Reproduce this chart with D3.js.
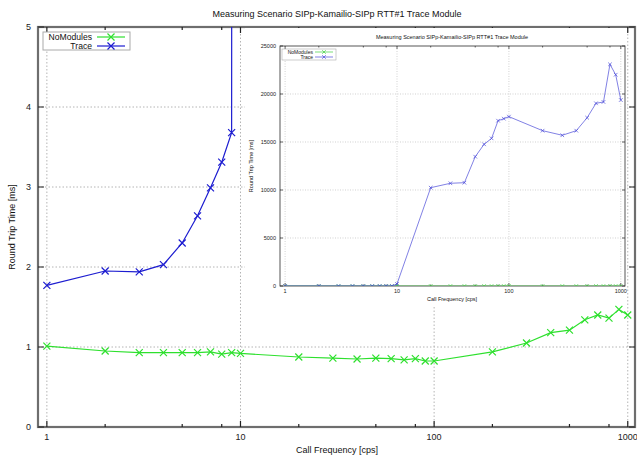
<!DOCTYPE html>
<html>
<head>
<meta charset="utf-8">
<script src="https://cdn.jsdelivr.net/npm/d3@7"></script>
<style>
  body { margin: 0; background: #fff; }
  svg { display: block; font-family: "Liberation Sans", Arial, sans-serif; }
</style>
</head>
<body>
<div id="chart"></div>
<script>
// data
var freqs = [1, 2, 3, 4, 5, 6, 7, 8, 9, 10, 20, 30, 40, 50, 60, 70, 80, 90, 100,
             200, 300, 400, 500, 600, 700, 800, 900, 1000];
var noModules = [1.01, 0.95, 0.93, 0.93, 0.93, 0.93, 0.94, 0.91, 0.93, 0.92, 0.875, 0.86, 0.85, 0.86, 0.855,
                 0.84, 0.855, 0.825, 0.825, 0.94, 1.05, 1.18, 1.21, 1.34, 1.40, 1.36, 1.47, 1.40];
var trace = [1.77, 1.95, 1.94, 2.03, 2.30, 2.64, 2.99, 3.31, 3.68, 220, 10240, 10700, 10760, 13470, 14760,
             15380, 17220, 17430, 17640, 16180, 15700, 16180, 17530, 19030, 19170, 23090, 22010, 19375];

var titleText = "Measuring Scenario SIPp-Kamailio-SIPp RTT#1 Trace Module";
var xLabelText = "Call Frequency [cps]";
var yLabelText = "Round Trip Time [ms]";
var xMajor = [1, 10, 100, 1000];
var xMinor = [2, 5, 8, 20, 50, 80, 200, 500, 800];
var yTicksMain = [0, 1, 2, 3, 4, 5];
var yTicksInset = [0, 5000, 10000, 15000, 20000, 25000];

var series = [
    {name: "NoModules", values: noModules, color: "#2ee02e", colorSmall: "#44d044"},
    {name: "Trace", values: trace, color: "#1c1cd0", colorSmall: "#4a4ad8"}
];

var W = 637, H = 457;
var svg = d3.select("#chart").append("svg").attr("width", W).attr("height", H);

function crossPath(s) {
    return "M" + (-s) + "," + (-s) + "L" + s + "," + s + "M" + (-s) + "," + s + "L" + s + "," + (-s);
}

// draws one gnuplot-like panel
function drawPanel(g, opt) {
    var x = d3.scaleLog().domain([0.9, 1090]).range([opt.left, opt.right]);
    var y = d3.scaleLinear().domain(opt.yDomain).range([opt.bottom, opt.top]);
    var fs = opt.fontSize;

    if (opt.background) {
        g.append("rect").attr("x", opt.bgX0).attr("y", opt.bgY0)
            .attr("width", opt.bgX1 - opt.bgX0).attr("height", opt.bgY1 - opt.bgY0)
            .style("fill", "#fff");
    }

    var clipId = "clip-" + opt.id;
    g.append("clipPath").attr("id", clipId).append("rect")
        .attr("x", opt.left).attr("y", opt.top)
        .attr("width", opt.right - opt.left).attr("height", opt.bottom - opt.top);

    // grid
    g.selectAll(".vgrid").data(xMajor).enter().append("line")
        .attr("x1", function(d) { return x(d); }).attr("x2", function(d) { return x(d); })
        .attr("y1", opt.top).attr("y2", opt.bottom)
        .style("stroke", "#b4b4b4").style("stroke-width", opt.gridW).style("stroke-dasharray", opt.dash);
    g.selectAll(".hgrid").data(opt.yTicks.slice(1, -1)).enter().append("line")
        .attr("x1", opt.left).attr("x2", opt.right)
        .attr("y1", function(d) { return y(d); }).attr("y2", function(d) { return y(d); })
        .style("stroke", "#b4b4b4").style("stroke-width", opt.gridW).style("stroke-dasharray", opt.dash);

    // frame
    g.append("rect").attr("x", opt.left).attr("y", opt.top)
        .attr("width", opt.right - opt.left).attr("height", opt.bottom - opt.top)
        .style("fill", "none").style("stroke", opt.frameColor).style("stroke-width", opt.frameW);

    // ticks
    var tk = opt.tickLen;
    g.selectAll(".xmaj").data(xMajor).enter().append("path")
        .attr("d", function(d) {
            return "M" + x(d) + "," + opt.bottom + "v" + (-tk) + "M" + x(d) + "," + opt.top + "v" + tk;
        })
        .style("stroke", "#222").style("stroke-width", opt.tickW);
    g.selectAll(".xmin").data(xMinor).enter().append("path")
        .attr("d", function(d) {
            return "M" + x(d) + "," + opt.bottom + "v" + (-tk / 2) + "M" + x(d) + "," + opt.top + "v" + (tk / 2);
        })
        .style("stroke", "#222").style("stroke-width", opt.tickW);
    g.selectAll(".ytk").data(opt.yTicks).enter().append("path")
        .attr("d", function(d) {
            return "M" + opt.left + "," + y(d) + "h" + tk + "M" + opt.right + "," + y(d) + "h" + (-tk);
        })
        .style("stroke", "#222").style("stroke-width", opt.tickW);

    // tick labels
    g.selectAll(".xlab").data(xMajor).enter().append("text")
        .attr("x", function(d) { return x(d); }).attr("y", opt.bottom + opt.xLabGap)
        .attr("text-anchor", "middle").style("font-size", fs + "px").style("fill", "#222")
        .text(function(d) { return d; });
    g.selectAll(".ylab").data(opt.yTicks).enter().append("text")
        .attr("x", opt.left - opt.yLabGap).attr("y", function(d) { return y(d); })
        .attr("dy", "0.35em").attr("text-anchor", "end")
        .style("font-size", fs + "px").style("fill", "#222")
        .text(function(d) { return d; });

    // titles
    g.append("text").attr("x", opt.titleX).attr("y", opt.titleY).attr("text-anchor", "middle")
        .style("font-size", fs + "px").style("fill", "#111").text(titleText);
    g.append("text").attr("x", opt.titleX).attr("y", opt.xTitleY).attr("text-anchor", "middle")
        .style("font-size", fs + "px").style("fill", "#111").text(xLabelText);
    g.append("text").attr("transform", "translate(" + opt.yTitleX + "," + ((opt.top + opt.bottom) / 2) + ")rotate(-90)")
        .attr("text-anchor", "middle").style("font-size", fs + "px").style("fill", "#111").text(yLabelText);

    // series
    var line = d3.line()
        .x(function(d, i) { return x(freqs[i]); })
        .y(function(d) { return y(d); });
    var plot = g.append("g").attr("clip-path", "url(#" + clipId + ")");
    series.forEach(function(s) {
        var col = opt.small ? s.colorSmall : s.color;
        plot.append("path").datum(s.values).attr("d", line)
            .style("fill", "none").style("stroke", col).style("stroke-width", opt.lineW);
        plot.selectAll(".pt-" + s.name).data(s.values).enter().append("path")
            .attr("transform", function(d, i) { return "translate(" + x(freqs[i]) + "," + y(d) + ")"; })
            .attr("d", crossPath(opt.markS))
            .style("fill", "none").style("stroke", col).style("stroke-width", opt.lineW);
    });

    // legend
    var lg = opt.legend;
    g.append("rect").attr("x", lg.x0).attr("y", lg.y0).attr("width", lg.x1 - lg.x0).attr("height", lg.y1 - lg.y0)
        .style("fill", "#fff").style("stroke", "#aaa").style("stroke-width", opt.gridW);
    series.forEach(function(s, i) {
        var col = opt.small ? s.colorSmall : s.color;
        var yy = lg.y0 + lg.rowH * (i + 0.5) + 0.5;
        g.append("text").attr("x", lg.textX).attr("y", yy).attr("dy", "0.35em").attr("text-anchor", "end")
            .style("font-size", lg.fontSize + "px").style("fill", "#111").text(s.name);
        g.append("line").attr("x1", lg.lineX0).attr("x2", lg.lineX1).attr("y1", yy).attr("y2", yy)
            .style("stroke", col).style("stroke-width", opt.lineW);
        g.append("path").attr("transform", "translate(" + ((lg.lineX0 + lg.lineX1) / 2) + "," + yy + ")")
            .attr("d", crossPath(opt.markS)).style("fill", "none").style("stroke", col).style("stroke-width", opt.lineW);
    });
}

// main chart
drawPanel(svg.append("g"), {
    id: "main", left: 38, right: 635, top: 27, bottom: 427, yDomain: [0, 5], yTicks: yTicksMain,
    fontSize: 9, gridW: 1, dash: "1.5,2", frameColor: "#6e6e6e", frameW: 2.2, tickLen: 6, tickW: 1.2,
    xLabGap: 13, yLabGap: 7, titleX: 337, titleY: 17, xTitleY: 453, yTitleX: 15,
    lineW: 1.2, markS: 3.5, small: false,
    legend: {x0: 43, x1: 130, y0: 32, y1: 50, rowH: 9, fontSize: 8.6, textX: 92, lineX0: 97, lineX1: 125}
});

// inset chart
drawPanel(svg.append("g"), {
    id: "inset", left: 280, right: 625, top: 46, bottom: 286, yDomain: [0, 25000], yTicks: yTicksInset,
    background: true, bgX0: 245, bgX1: 627, bgY0: 28, bgY1: 305,
    fontSize: 5.5, gridW: 0.6, dash: "1,1.5", frameColor: "#444", frameW: 0.9, tickLen: 3, tickW: 0.7,
    xLabGap: 7, yLabGap: 4, titleX: 452, titleY: 39, xTitleY: 301, yTitleX: 253,
    lineW: 0.7, markS: 1.8, small: true,
    legend: {x0: 282, x1: 336, y0: 49, y1: 60, rowH: 5, fontSize: 5, textX: 313, lineX0: 315, lineX1: 333}
});
</script>
</body>
</html>
